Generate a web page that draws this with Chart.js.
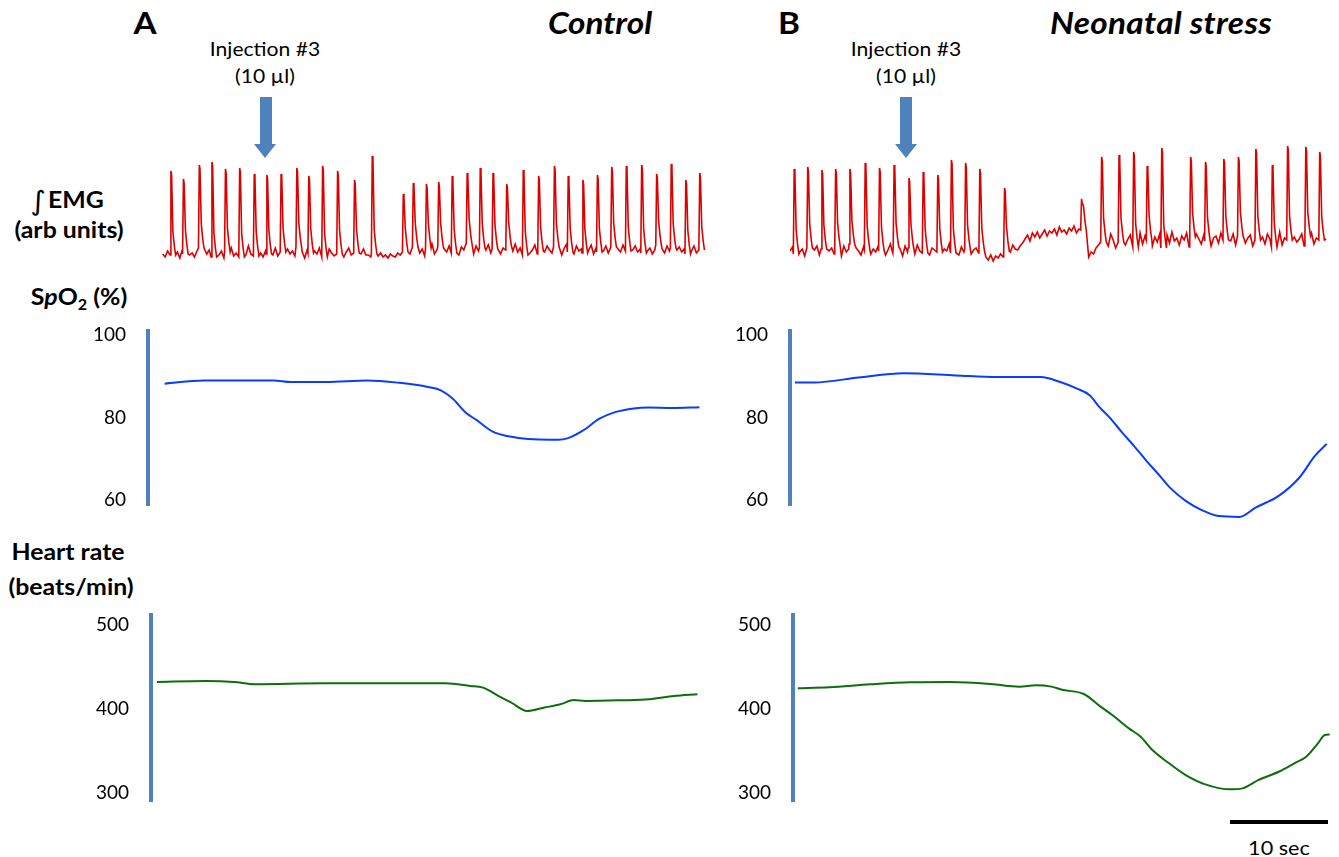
<!DOCTYPE html>
<html>
<head>
<meta charset="utf-8">
<script src="https://cdn.jsdelivr.net/npm/chart.js@4.4.1/dist/chart.umd.min.js"></script>
<style>
  body { margin: 0; background: #fff; }
  #fig { position: relative; width: 1339px; height: 857px; overflow: hidden; font-family: Lato, 'Open Sans', sans-serif; color: #000; }
  .c { position: absolute; white-space: nowrap; line-height: 1; transform: translate(-50%, -50%) scaleX(1.11); }
  .b { font-weight: 700; }
  .bi { font-weight: 700; font-style: italic; }
  .lab { font-weight: 700; font-size: 22px; transform: translate(-50%, -50%) scaleX(1.13); }
  canvas { position: absolute; }
  .shaft { position: absolute; width: 12px; height: 47px; background: #4f81bd; }
  .head { position: absolute; width: 0; height: 0; border-left: 11.5px solid transparent; border-right: 11.5px solid transparent; border-top: 14px solid #4f81bd; }
</style>
</head>
<body>
<div id="fig">
  <div class="c b" style="left:145px;top:22px;font-size:30px">A</div>
  <div class="c bi" style="left:600px;top:22px;font-size:30px">Control</div>
  <div class="c b" style="left:789px;top:22px;font-size:30px">B</div>
  <div class="c bi" style="left:1161px;top:22px;font-size:30px;letter-spacing:0.3px">Neonatal stress</div>

  <div class="c" style="left:265px;top:48px;font-size:19px">Injection #3</div>
  <div class="c" style="left:265px;top:75px;font-size:19px">(10 µl)</div>
  <div class="c" style="left:906px;top:48px;font-size:19px">Injection #3</div>
  <div class="c" style="left:906px;top:75px;font-size:19px">(10 µl)</div>
  <div class="shaft" style="left:259.5px;top:97px"></div>
  <div class="head" style="left:254px;top:144px"></div>
  <div class="shaft" style="left:900px;top:97px"></div>
  <div class="head" style="left:894.5px;top:144px"></div>

  <div class="c" style="left:38px;top:200px;font-size:27px;font-family:'DejaVu Sans'">&#8747;</div>
  <div class="c lab" style="left:76px;top:200px">EMG</div>
  <div class="c lab" style="left:69px;top:230px">(arb units)</div>
  <div class="c lab" style="left:79px;top:299px">S<i>p</i>O<sub style="font-size:0.65em;vertical-align:-0.35em">2</sub> (%)</div>
  <div class="c lab" style="left:68px;top:552px">Heart rate</div>
  <div class="c lab" style="left:71px;top:587px">(beats/min)</div>

  <div style="position:absolute;left:1230px;top:820px;width:98px;height:4px;background:#000"></div>
  <div class="c" style="left:1279px;top:848px;font-size:19.5px">10 sec</div>
</div>
<script>
// integrated EMG, arbitrary units; time in seconds from the axis line of each panel
const emgA_t0 = 1.5, emgA_step = 0.25;
const emgA_base = [
  6,3,9,5,11,4,8,2,10,6,13,5,7,3,9,12,4,8,6,10,3,7,11,5,9,2,8,6,12,4,
  7,10,3,9,5,14,6,8,4,11,7,3,9,6,10,5,12,4,8,7,3,11,6,9,4,13,5,8,2,10,
  7,4,9,6,12,3,8,5,11,7,4,10,6,9,3,8,12,5,7,4,9,6,11,5,
  5,3,6,2,4,7,3,5,2,6,4,3,7,5,8,6,
  10,6,13,8,15,7,11,4,12,9,16,6,10,13,5,11,8,14,7,12,
  9,5,13,10,17,8,11,6,14,9,12,5,10,15,7,11,8,13,6,12,
  10,14,7,9,16,8,12,5,11,13,7,10,15,6,9,12,8,14,10,7,
  13,9,11,5,12,16,8,10,6,14,9,11,7,13,10,15,6,12,8,11,
  9,14,7,10,13,5,11,8,15,9,12,6,10,14,8,11,7,13,9,12,
  6,10,15,8,11,7,14,9,12,5,10,13,8,11,6,12,9,14,7,10,
  11,8];
const emgA_spikeT = [2.37,3.65,5.27,6.56,7.94,9.39,10.88,12.17,13.62,15.23,16.45,17.86,19.39,21.12,22.93,26.1,27.12,28.46,29.71,31.09,32.62,33.96,35.26,36.66,38.35,39.92,41.53,42.94,44.44,45.92,47.38,48.87,50.44,51.97,53.46,54.95,56.37];
const emgA_spikeH = [89,81,95,98,91,92,86,85,86,92,84,94,89,80,104,66,77,76,78,84,87,92,87,76,90,84,94,84,80,85,93,94,95,86,96,80,87];

const emgB_t0 = 0, emgB_step = 0.25;
const emgB_base = [
  9,13,6,15,8,11,4,12,16,7,10,14,5,11,8,17,9,12,6,13,
  10,4,14,8,11,16,7,12,9,5,13,10,15,6,11,8,14,9,12,5,
  10,16,7,13,9,11,4,14,8,12,10,6,15,9,11,7,13,5,12,10,
  8,14,6,11,9,16,7,12,10,5,13,8,11,15,6,10,12,7,9,11,
  3,0,5,-1,4,2,6,3,
  9,13,8,15,11,10,14,17,
  21,25,19,27,23,28,22,26,30,24,29,27,31,25,33,28,30,26,32,29,34,27,31,30,
  2,-4,3,8,6,12,15,18,
  17,23,14,26,20,12,24,18,28,15,21,25,13,22,19,27,16,24,20,29,
  14,23,18,26,12,21,25,17,28,19,22,15,24,20,27,13,23,18,26,21,
  16,25,19,29,14,22,24,17,27,20,12,23,19,26,15,24,21,28,17,22,
  25,14,20,27,18,23,16,26,21,13,24,19,28,15,22,20,25,17,23,18,
  21,26,14,24,19,27,16,22,20,25,17,21];
const emgB_spikeT = [0.46,1.84,3.29,4.69,6.15,7.71,9.17,10.66,12.18,13.63,15.12,16.51,17.96,19.41,21.94,29.8,31.85,33.63,35.12,36.5,37.99,40.94,42.46,44.33,45.82,47.6,49.28,50.84,52.7,54.12];
const emgB_spikeH = [91,93,90,91,91,97,92,95,82,88,85,100,97,91,72,61,103,105,108,94,112,103,98,101,103,111,95,114,113,108];

// SpO2 (%)
const spo2A_t = [1.7,5.7,12.8,14.6,18.2,22.4,25.7,28.6,29.9,31.1,32.4,33.6,35.2,37.4,39.4,41.9,42.9,44.4,46.1,47.7,49.6,51.1,53.5,56.3];
const spo2A_v = [88.2,89.0,89.0,88.6,88.6,89.0,88.4,87.4,86.6,84.6,81.3,79.3,76.6,75.2,74.7,74.6,75.0,76.8,79.7,81.3,82.2,82.4,82.3,82.5];
const spo2B_t = [0.5,2.5,7.0,11.6,16.9,21.1,25.6,27.6,29.3,30.6,31.6,32.6,33.9,35.1,36.4,37.6,38.8,40.4,42.1,43.8,45.9,47.5,49.9,52.0,53.6,54.8];
const spo2B_v = [88.5,88.5,89.7,90.7,90.2,89.8,89.8,88.6,87.0,85.4,82.5,80.1,76.4,73.2,69.5,66.3,63.0,59.8,57.5,56.1,55.9,58.1,61.0,65.4,70.7,73.6];

// heart rate (beats/min)
const hrA_t = [0.6,5.6,8.5,10.6,17.6,30.1,32.6,33.9,35.6,36.8,38.4,40.1,41.8,43.2,44.3,48.0,50.9,53.4,55.8];
const hrA_v = [431.9,433.1,431.9,429.2,430.3,430.3,427.2,425.2,414.5,407.4,397.3,401.3,405.3,410.4,409.3,410.1,411.3,415.2,417.3];
const hrB_t = [0.5,3.7,7.9,12.0,16.1,20.2,23.1,24.8,26.4,27.6,29.7,31.4,32.6,34.3,35.5,36.7,38.4,40.1,42.1,44.6,45.9,47.5,49.6,51.2,52.4,53.6,54.3,54.8];
const hrB_v = [424.4,425.6,429.2,431.6,431.9,429.6,426.4,428.0,426.4,422.4,417.6,402.5,392.5,376.6,366.6,350.7,334.9,320.9,309.8,303.8,305.0,314.9,324.8,334.9,342.7,358.7,368.7,369.4];

const spo2Ticks = [60, 80, 100];
const hrTicks = [300, 400, 500];

const X_MAX = 58;      // seconds shown across each trace
const PLOT_W = 568;    // px, 10 sec ~ 98 px
const AXIS_W = 70;
const PAD = 45;        // room for tick label padding so the plot box keeps its size

function pairs(ts, vs) {
  return ts.map((t, i) => ({ x: t, y: vs[i] }));
}

function emgPoints(t0, step, base, spikeT, spikeH) {
  const pts = [];
  base.forEach((b, i) => {
    const t = t0 + i * step;
    if (spikeT.some((s) => t > s - 0.15 && t < s + 0.5)) return;
    pts.push({ x: t, y: b });
  });
  spikeT.forEach((s, i) => {
    const b = base[Math.max(0, Math.min(base.length - 1, Math.round((s - t0) / step)))];
    const h = spikeH[i];
    pts.push({ x: s - 0.12, y: b }, { x: s - 0.03, y: h }, { x: s + 0.04, y: h - 4 },
      { x: s + 0.17, y: b + 24 }, { x: s + 0.32, y: b + 9 }, { x: s + 0.45, y: b });
  });
  return pts.sort((p, q) => p.x - q.x);
}

function addCanvas(left, top, w, h) {
  const cv = document.createElement('canvas');
  cv.width = w; cv.height = h;
  cv.style.left = left + 'px'; cv.style.top = top + 'px';
  cv.style.width = w + 'px'; cv.style.height = h + 'px';
  document.getElementById('fig').appendChild(cv);
  return cv;
}

function traceChart(cfg) {
  const withAxis = !!cfg.ticks;
  const axW = withAxis ? AXIS_W : 0;
  const cv = addCanvas(cfg.axisX - axW, cfg.top - PAD, axW + PLOT_W, cfg.bottom - cfg.top + 2 * PAD);
  return new Chart(cv, {
    type: 'line',
    data: { datasets: [{
      data: cfg.points,
      borderColor: cfg.color,
      borderWidth: cfg.width,
      pointRadius: 0,
      tension: cfg.smooth ? 0.3 : 0,
      cubicInterpolationMode: cfg.smooth ? 'monotone' : 'default',
      clip: false
    }] },
    options: {
      responsive: false,
      animation: false,
      events: [],
      layout: { padding: { top: PAD, bottom: PAD, left: 0, right: 0 } },
      plugins: { legend: { display: false }, tooltip: { enabled: false } },
      scales: {
        x: { type: 'linear', display: false, min: 0, max: X_MAX },
        y: {
          type: 'linear',
          display: withAxis,
          min: cfg.min,
          max: cfg.max,
          afterFit: (s) => { s.width = axW; },
          afterBuildTicks: (s) => { if (withAxis) s.ticks = cfg.ticks.map((v) => ({ value: v })); },
          grid: { display: false, drawTicks: false },
          border: { display: true, color: '#4f81bd', width: 4 },
          ticks: { padding: 22, color: '#000', font: { family: 'Lato', size: 19 }, callback: (v) => String(v) }
        }
      }
    }
  });
}

traceChart({ axisX: 148, top: 140, bottom: 270, min: -10, max: 120, color: '#dc0000', width: 1.6,
  points: emgPoints(emgA_t0, emgA_step, emgA_base, emgA_spikeT, emgA_spikeH) });
traceChart({ axisX: 790, top: 140, bottom: 270, min: -10, max: 120, color: '#dc0000', width: 1.6,
  points: emgPoints(emgB_t0, emgB_step, emgB_base, emgB_spikeT, emgB_spikeH) });

traceChart({ axisX: 148, top: 331, bottom: 505, min: 58.79, max: 100.97, ticks: spo2Ticks, color: '#0a3cff', width: 2, smooth: true,
  points: pairs(spo2A_t, spo2A_v) });
traceChart({ axisX: 790, top: 331, bottom: 505, min: 58.79, max: 100.97, ticks: spo2Ticks, color: '#0a3cff', width: 2, smooth: true,
  points: pairs(spo2B_t, spo2B_v) });

traceChart({ axisX: 151, top: 615, bottom: 801, min: 289.9, max: 511.9, ticks: hrTicks, color: '#0e6e0e', width: 2, smooth: true,
  points: pairs(hrA_t, hrA_v) });
traceChart({ axisX: 793, top: 615, bottom: 801, min: 289.9, max: 511.9, ticks: hrTicks, color: '#0e6e0e', width: 2, smooth: true,
  points: pairs(hrB_t, hrB_v) });
</script>
</body>
</html>
